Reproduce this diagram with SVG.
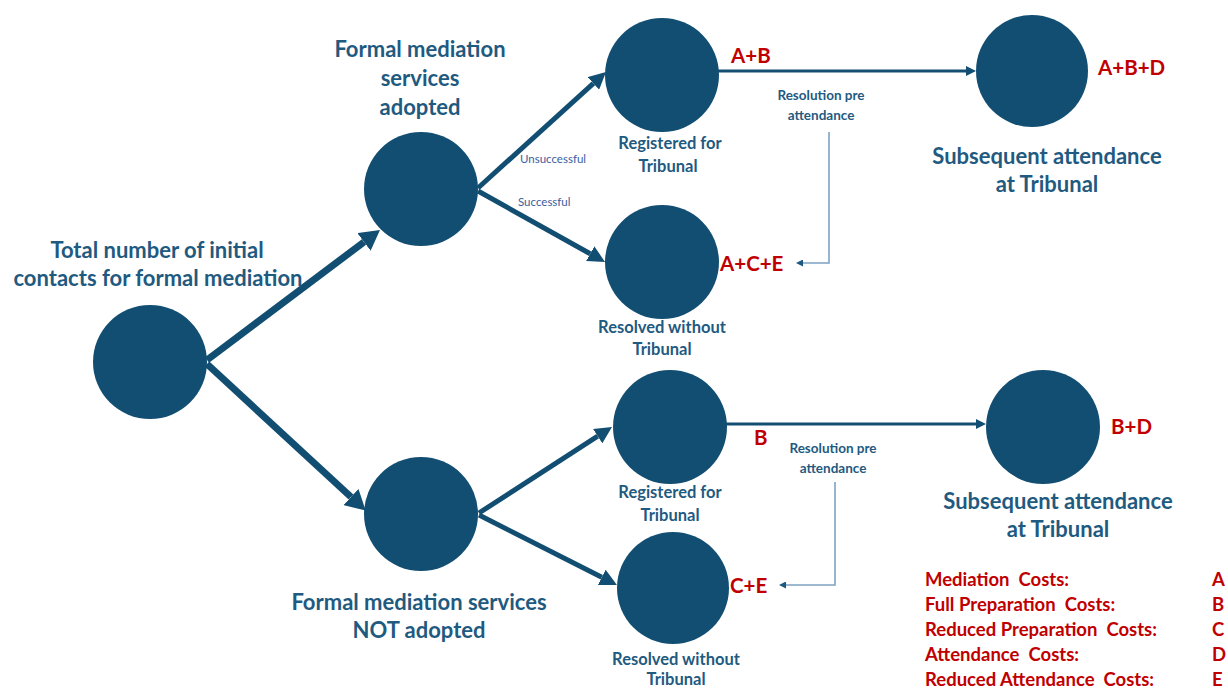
<svg xmlns="http://www.w3.org/2000/svg" width="1228" height="688" viewBox="0 0 1228 688">
<style>
.node{fill:#124e72}
.big{font-family:Lato,"Liberation Sans",sans-serif;font-weight:bold;font-size:22px;fill:#1f5a80;text-anchor:middle}
.mid{font-family:Lato,"Liberation Sans",sans-serif;font-weight:bold;font-size:16.5px;fill:#1f5a80;text-anchor:middle}
.small{font-family:Lato,"Liberation Sans",sans-serif;font-weight:bold;font-size:13.5px;fill:#1f5a80;text-anchor:middle}
.tiny{font-family:Lato,"Liberation Sans",sans-serif;font-size:11.5px;fill:#3a5ea0}
.cost{font-family:Lato,"Liberation Sans",sans-serif;font-weight:bold;font-size:20.5px;fill:#c00000}
.leg{font-family:Lato,"Liberation Sans",sans-serif;font-weight:bold;font-size:18.5px;fill:#c00000;white-space:pre}
.thick{stroke:#124e72;stroke-width:7;fill:none}
.med{stroke:#124e72;stroke-width:5;fill:none}
.hz{stroke:#124e72;stroke-width:3;fill:none}
.thin{stroke:#7ea3c2;stroke-width:1.6;fill:none}
</style>
<defs>
<marker id="a1" markerUnits="userSpaceOnUse" markerWidth="20" markerHeight="22" viewBox="0 0 20 22" refX="0" refY="11" orient="auto"><path d="M0,0 L20,11 L0,22 z" fill="#124e72"/></marker>
<marker id="a2" markerUnits="userSpaceOnUse" markerWidth="17" markerHeight="17" viewBox="0 0 17 17" refX="0" refY="8.5" orient="auto"><path d="M0,0 L17,8.5 L0,17 z" fill="#124e72"/></marker>
<marker id="a3" markerUnits="userSpaceOnUse" markerWidth="10" markerHeight="10" viewBox="0 0 10 10" refX="0" refY="5" orient="auto"><path d="M0,0 L10,5 L0,10 z" fill="#124e72"/></marker>
<marker id="a4" markerUnits="userSpaceOnUse" markerWidth="7" markerHeight="7" viewBox="0 0 7 7" refX="0" refY="3.5" orient="auto"><path d="M0,0 L7,3.5 L0,7 z" fill="#1e5780"/></marker>
</defs>
<rect width="1228" height="688" fill="#ffffff"/>
<g id="connectors">
<line class="thick" x1="207" y1="360" x2="364" y2="242" marker-end="url(#a1)"/>
<line class="thick" x1="207" y1="364" x2="351" y2="497" marker-end="url(#a1)"/>
<line class="med" x1="478" y1="188" x2="593.4" y2="83.4" marker-end="url(#a2)"/>
<line class="med" x1="478" y1="191" x2="590.2" y2="253.7" marker-end="url(#a2)"/>
<line class="med" x1="479" y1="513" x2="597.7" y2="436.2" marker-end="url(#a2)"/>
<line class="med" x1="479" y1="515" x2="601.8" y2="577.3" marker-end="url(#a2)"/>
<line class="hz" x1="718" y1="71" x2="966" y2="71" marker-end="url(#a3)"/>
<line class="hz" x1="726" y1="424" x2="976" y2="424" marker-end="url(#a3)"/>
<path class="thin" d="M829,132 V263 H803" marker-end="url(#a4)"/>
<path class="thin" d="M835,482 V585 H786" marker-end="url(#a4)"/>
<text class="tiny" x="520" y="163">Unsuccessful</text>
<text class="tiny" x="518" y="206">Successful</text>
<text class="small" x="821" y="100">Resolution pre</text>
<text class="small" x="821" y="120">attendance</text>
<text class="small" x="833" y="453">Resolution pre</text>
<text class="small" x="833" y="473">attendance</text>
</g>
<g id="root">
<circle class="node" cx="150" cy="362" r="57"/>
<text class="big" x="157" y="258">Total number of initial</text>
<text class="big" x="158" y="286">contacts for formal mediation</text>
</g>
<g id="adopted">
<circle class="node" cx="421" cy="189" r="57"/>
<text class="big" x="420" y="57">Formal mediation</text>
<text class="big" x="420" y="86">services</text>
<text class="big" x="420" y="115">adopted</text>
</g>
<g id="not-adopted">
<circle class="node" cx="421" cy="514" r="57"/>
<text class="big" x="419" y="610">Formal mediation services</text>
<text class="big" x="419" y="638">NOT adopted</text>
</g>
<g id="registered-top">
<circle class="node" cx="662" cy="75" r="57"/>
<text class="mid" x="670" y="149">Registered for</text>
<text class="mid" x="668" y="172">Tribunal</text>
<text class="cost" x="731" y="63">A+B</text>
</g>
<g id="resolved-top">
<circle class="node" cx="662" cy="262" r="57"/>
<text class="mid" x="662" y="333">Resolved without</text>
<text class="mid" x="662" y="355">Tribunal</text>
<text class="cost" x="720" y="271">A+C+E</text>
</g>
<g id="subsequent-top">
<circle class="node" cx="1032" cy="71" r="56"/>
<text class="big" x="1047" y="164">Subsequent attendance</text>
<text class="big" x="1047" y="192">at Tribunal</text>
<text class="cost" x="1098" y="75">A+B+D</text>
</g>
<g id="registered-bottom">
<circle class="node" cx="670" cy="427" r="57"/>
<text class="mid" x="670" y="498">Registered for</text>
<text class="mid" x="670" y="521">Tribunal</text>
<text class="cost" x="754" y="445">B</text>
</g>
<g id="resolved-bottom">
<circle class="node" cx="673" cy="588" r="56"/>
<text class="mid" x="676" y="665">Resolved without</text>
<text class="mid" x="676" y="685">Tribunal</text>
<text class="cost" x="730" y="593">C+E</text>
</g>
<g id="subsequent-bottom">
<circle class="node" cx="1043" cy="427" r="57"/>
<text class="big" x="1058" y="509">Subsequent attendance</text>
<text class="big" x="1058" y="537">at Tribunal</text>
<text class="cost" x="1111" y="434">B+D</text>
</g>
<g id="legend">
<text class="leg" x="925" y="586" xml:space="preserve">Mediation  Costs:</text>
<text class="leg" x="925" y="611" xml:space="preserve">Full Preparation  Costs:</text>
<text class="leg" x="925" y="636" xml:space="preserve">Reduced Preparation  Costs:</text>
<text class="leg" x="925" y="661" xml:space="preserve">Attendance  Costs:</text>
<text class="leg" x="925" y="686" xml:space="preserve">Reduced Attendance  Costs:</text>
<text class="leg" x="1212" y="586">A</text>
<text class="leg" x="1212" y="611">B</text>
<text class="leg" x="1212" y="636">C</text>
<text class="leg" x="1212" y="661">D</text>
<text class="leg" x="1212" y="686">E</text>
</g>
</svg>
